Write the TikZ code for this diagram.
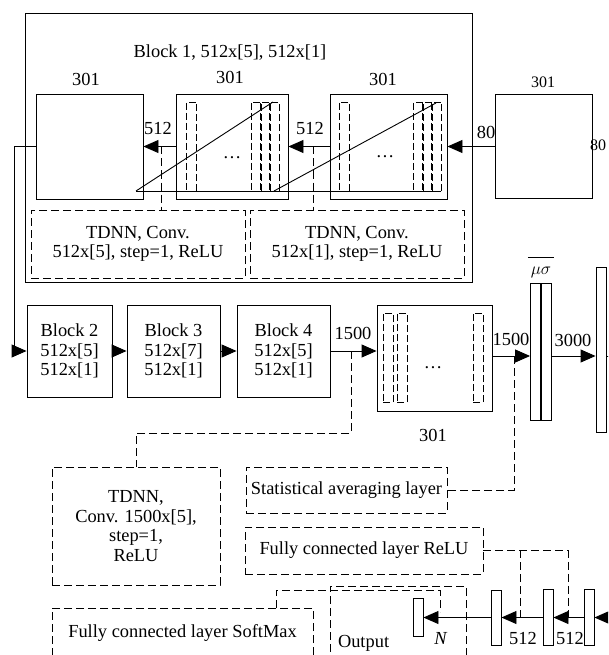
\documentclass[tikz,border=0pt]{standalone}
\usepackage{fontspec}
\setmainfont{Liberation Serif}
\usetikzlibrary{arrows.meta}

\begin{document}
\begin{tikzpicture}[x=1pt, y=-1pt,
    font=\fontsize{18.4}{19.5}\selectfont,
    box/.style={draw, line width=0.9pt, inner sep=0pt, align=center},
    dbox/.style={box, dash pattern=on 8pt off 4pt},
    strip/.style={draw, line width=0.8pt, dash pattern=on 7pt off 3pt, minimum width=10, minimum height=89, inner sep=0pt},
    bar/.style={draw, line width=0.9pt, minimum width=10, inner sep=0pt},
    arrow/.style={-{Triangle[length=15pt,width=13pt]}, line width=0.9pt},
    link/.style={line width=0.9pt, dash pattern=on 8pt off 4pt}
]
\clip (0,0) rectangle (608,655);

% Block 1 frame
\node[box, minimum width=447, minimum height=269] (blk1) at (248.5,147.5) {};
\node (blk1t) at (230,53) {Block 1, 512x[5], 512x[1]};

% Feature maps inside block 1 and the input
\node[box, minimum width=107, minimum height=105] (fm1) at (89.5,146.5) {};
\node[box, minimum width=112, minimum height=105] (fm2) at (232,146.5) {};
\node[box, minimum width=117, minimum height=105] (fm3) at (388.5,146.5) {};
\node[box, minimum width=97, minimum height=104] (inp) at (543.5,146.5) {};
\node (n1) at (86,79) {301};
\node (n2) at (230,77) {301};
\node (n3) at (383,79) {301};
\node[font=\fontsize{16}{18}\selectfont] (n4) at (543,82) {301};

% Filters
\foreach \x [count=\i] in {191.5,256,265,274}
    \node[strip] (sa\i) at (\x,146.5) {};
\foreach \x [count=\i] in {344,418.5,427.5,436.5}
    \node[strip] (sb\i) at (\x,146.5) {};
\node (da) at (232,158) {\dots};
\node (db) at (385,157) {\dots};

% Receptive field lines
\draw[line width=0.9pt] (136,191) -- (273,102);
\draw[line width=0.9pt] (136,191) -- (441,191);
\draw[line width=0.9pt] (274,191) -- (436,103);

% Arrows in block 1
\draw[arrow] (inp.west) -- (fm3.east);
\node (l80a) at (486,132) {80};
\node[anchor=west, inner sep=0pt, font=\fontsize{16}{18}\selectfont] (l80b) at (590,145) {80};
\draw[arrow] (fm3.west) -- (fm2.east);
\node (l512b) at (310,128) {512};
\draw[arrow] (fm2.west) -- (fm1.east);
\node (l512a) at (158,128) {512};

% Layer descriptions
\node[dbox, minimum width=214, minimum height=68] (tdA) at (138,244) {TDNN, Conv.\\512x[5], step=1, ReLU};
\node[dbox, minimum width=214, minimum height=68] (tdB) at (357,244) {TDNN, Conv.\\512x[1], step=1, ReLU};
\coordinate (t1) at (161,146.5);
\coordinate (t2) at (313,146.5);
\draw[link] (t1) -- (t1 |- tdA.north);
\draw[link] (t2) -- (t2 |- tdB.north);

% Blocks 2-4
\node[box, minimum width=85, minimum height=92] (b2) at (69.5,351) {Block 2\\512x[5]\\512x[1]};
\node[box, minimum width=93, minimum height=92] (b3) at (173.5,351) {Block 3\\512x[7]\\512x[1]};
\node[box, minimum width=93, minimum height=92] (b4) at (283.5,351) {Block 4\\512x[5]\\512x[1]};
\coordinate (bend) at (14,146.5);
\draw[arrow] (fm1.west) -- (bend) |- (b2.west);
\draw[arrow] (b2) -- (b3);
\draw[arrow] (b3) -- (b4);

% Frame layer 1500
\node[box, minimum width=115, minimum height=106] (fm5) at (434.5,358) {};
\foreach \x [count=\i] in {388,402,478}
    \node[strip] (sc\i) at (\x,357.5) {};
\node (dc) at (433,368) {\dots};
\node (n5) at (433,435) {301};
\draw[arrow] (b4.east) -- (b4.east -| fm5.west);
\node (l1500a) at (353,333) {1500};
\node[dbox, minimum width=168, minimum height=118] (tdC) at (136,526) {TDNN,\\Conv. 1500x[5],\\step=1,\\ReLU};
\coordinate (t3) at (351,351);
\draw[link] (t3) -- ++(0,82) -| (tdC.north);

% Statistics pooling
\node[bar, minimum height=137] (ms1) at (535.5,351.5) {};
\node[bar, minimum height=137] (ms2) at (546.5,351.5) {};
\node (msl) at (541,267) {$\overline{\,\rule{0pt}{16pt}\mu\sigma\,}$};
\coordinate (e1) at (492,356);
\draw[arrow] (e1) -- (e1 -| ms1.west);
\node (l1500b) at (511,339) {1500};
\node[dbox, minimum width=201, minimum height=46] (stat) at (346.5,490) {Statistical averaging layer};
\coordinate (t4) at (514,356);
\draw[link] (t4) |- (stat.east);

% Embedding
\node[bar, minimum height=165] (emb) at (601,349.5) {};
\coordinate (m1) at (551.5,356);
\draw[arrow] (m1) -- (m1 -| emb.west);
\node (l3000) at (573,340) {3000};
\coordinate (m2) at (606,356);
\draw[line width=0.9pt] (emb.east |- m2) -- ++(12,0);

% Fully connected layers
\node[dbox, minimum width=238, minimum height=47] (fcr) at (364,550.5) {Fully connected layer ReLU};
\node[dbox, line width=0.6pt, minimum width=136, minimum height=114, text width=120, align=left] (outb) at (398,643) {Output};
\node[dbox, minimum width=261, minimum height=50] (fsm) at (182.5,633) {Fully connected layer SoftMax};
\node[bar, minimum height=55] (fc1) at (496,617.5) {};
\node[bar, minimum height=56] (fc2) at (548,617.5) {};
\node[bar, minimum height=56] (fc3) at (589,617.5) {};
\node[bar, minimum height=38] (outn) at (418,617.5) {};
\coordinate (cin) at (640,617.5);
\draw[arrow] (cin) -- (fc3.east);
\draw[arrow] (fc3.west) -- (fc2.east);
\draw[arrow] (fc2.west) -- (fc1.east);
\draw[arrow] (fc1.west) -- (fc1.west -| outn.east);
\node (l512c) at (523,638) {512};
\node (l512d) at (570,638) {512};
\node (ln) at (441,638) {\textit{N}};
\coordinate (r1) at (520,617.5);
\coordinate (r2) at (568,617.5);
\draw[link] (fcr.east) -| (r2);
\draw[link] (r1) -- (r1 |- fcr.east);
\coordinate (sm) at (276,608);
\coordinate (sn) at (440,612);
\draw[link] (sm) -- ++(0,-18) -| (sn);
\end{tikzpicture}
\end{document}
